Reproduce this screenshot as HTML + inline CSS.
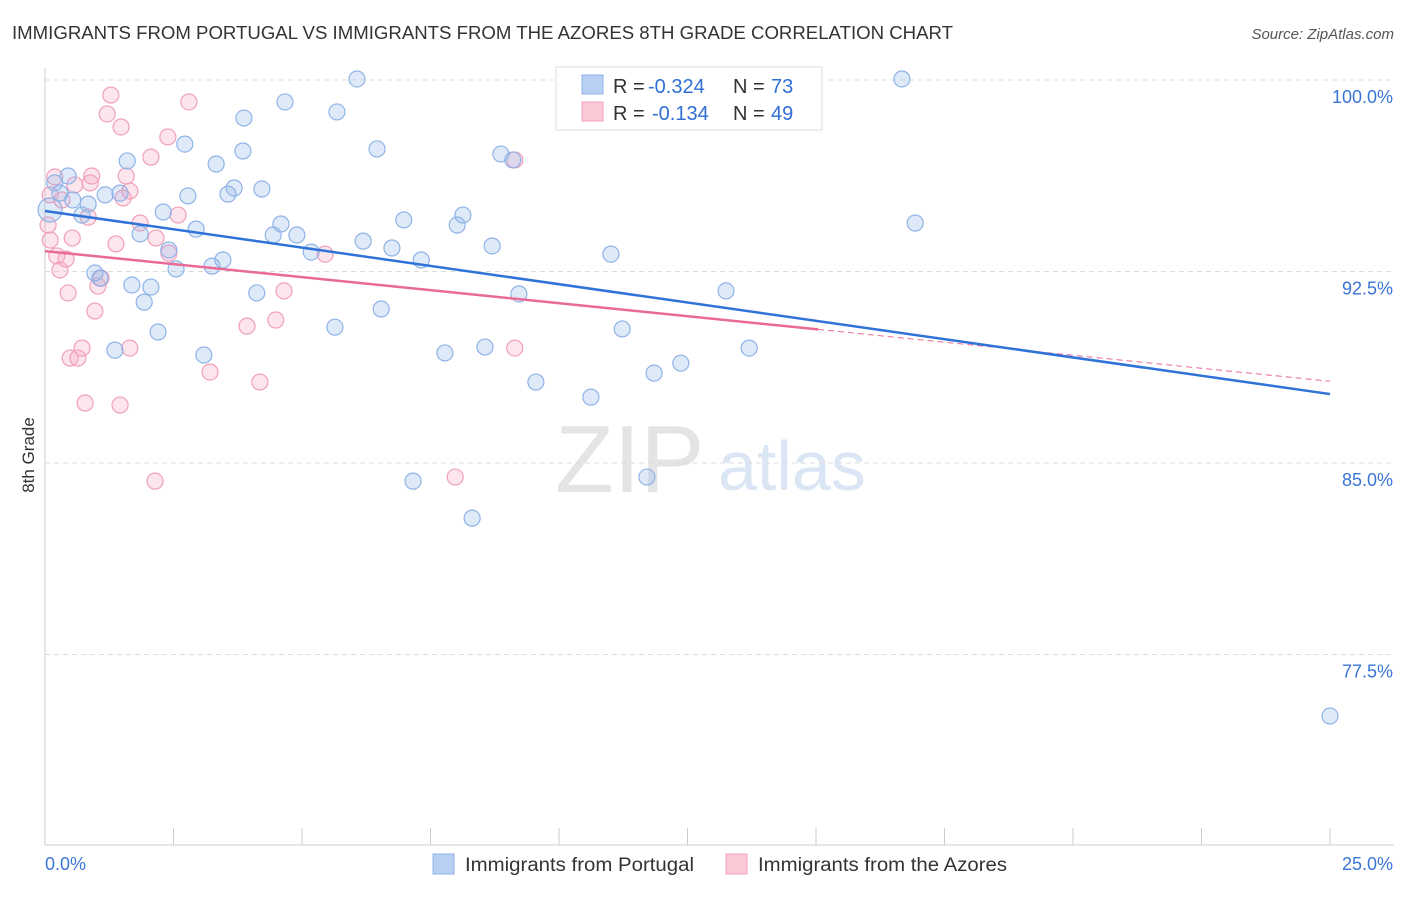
<!DOCTYPE html>
<html><head><meta charset="utf-8"><style>
body{margin:0;background:#fff;font-family:"Liberation Sans",sans-serif;}
svg text{font-family:"Liberation Sans",sans-serif;}
</style></head><body>
<svg id="chart" width="1406" height="892" viewBox="0 0 1406 892">
<text x="12" y="39" font-size="18" fill="#333" textLength="941" lengthAdjust="spacingAndGlyphs">IMMIGRANTS FROM PORTUGAL VS IMMIGRANTS FROM THE AZORES 8TH GRADE CORRELATION CHART</text>
<text x="1394" y="39" font-size="15" fill="#555" font-style="italic" text-anchor="end">Source: ZipAtlas.com</text>
<text x="555" y="492" font-size="96" fill="#e4e4e4" font-family="Liberation Serif">ZIP</text>
<text x="718" y="490" font-size="70" fill="#dbe6f5">atlas</text>
<text x="34" y="455" font-size="17" fill="#333" transform="rotate(-90 34 455)" text-anchor="middle">8th Grade</text>
<g id="grid"></g><g id="axes"></g><g id="marks"></g>
<g>
<rect x="556" y="67" width="266" height="63" fill="#fff" stroke="#ddd"/>
<rect x="582" y="75" width="21" height="19" fill="#b7d0f3" stroke="#8fb3e8"/>
<rect x="582" y="102" width="21" height="19" fill="#fbc8d6" stroke="#f0a0b8"/>
<text x="613" y="93" font-size="20" fill="#333">R =</text>
<text x="648" y="93" font-size="20" fill="#2f6fd6">-0.324</text>
<text x="733" y="93" font-size="20" fill="#333">N =</text>
<text x="771" y="93" font-size="20" fill="#2f6fd6">73</text>
<text x="613" y="120" font-size="20" fill="#333">R =</text>
<text x="652" y="120" font-size="20" fill="#2f6fd6">-0.134</text>
<text x="733" y="120" font-size="20" fill="#333">N =</text>
<text x="771" y="120" font-size="20" fill="#2f6fd6">49</text>
</g>
<g>
<rect x="433" y="854" width="21" height="20" fill="#b7d0f3" stroke="#8fb3e8"/>
<text x="465" y="871" font-size="19" fill="#333" textLength="229" lengthAdjust="spacingAndGlyphs">Immigrants from Portugal</text>
<rect x="726" y="854" width="21" height="20" fill="#fbc8d6" stroke="#f0a0b8"/>
<text x="758" y="871" font-size="19" fill="#333" textLength="249" lengthAdjust="spacingAndGlyphs">Immigrants from the Azores</text>
</g>
</svg>
<script>
const yTicks=[100,92.5,85,77.5];
const yTickLabels=["100.0%","92.5%","85.0%","77.5%"];
const xTicks=[0,2.5,5,7.5,10,12.5,15,17.5,20,22.5,25];
const blueX=[.19,.45,.29,.54,.84,.72,1.17,1.60,1.46,.97,1.07,1.69,1.93,2.06,2.30,2.41,2.55,2.20,1.36,1.85,2.72,2.78,2.94,3.33,3.56,3.68,3.87,3.85,4.22,3.25,3.46,3.09,4.12,4.67,4.59,4.44,4.90,5.18,5.68,6.07,6.46,6.19,6.75,6.98,7.32,5.64,6.54,7.78,8.02,8.13,8.56,8.70,8.87,9.10,9.22,9.55,10.62,11.01,11.23,11.85,12.37,11.71,8.31,7.16,13.25,13.70,13.85,16.67,16.93,25.0,.10,14.07];
const blueY=[95.97,96.24,95.57,95.30,95.14,94.71,95.50,96.83,95.57,92.44,92.24,91.97,91.30,91.89,94.83,93.34,92.60,90.13,89.42,93.97,97.49,95.46,94.16,96.71,95.53,95.77,98.51,97.22,95.73,92.71,92.95,89.23,91.66,99.14,94.36,93.93,93.93,93.26,98.75,100.04,97.30,93.69,93.42,94.52,92.95,90.32,91.03,89.31,94.32,94.71,89.54,93.50,97.10,96.87,91.62,88.17,87.58,93.18,90.25,88.52,88.91,84.45,82.84,84.29,91.74,89.50,100.04,100.04,94.40,75.09,94.91,100.04];
const pinkX=[.19,.06,.10,.23,.29,.45,.41,.53,.58,.49,.64,.72,.78,.84,.91,.88,.97,1.03,1.09,1.21,1.28,1.38,1.48,1.46,1.58,1.52,1.65,1.65,1.85,2.06,2.16,2.39,2.41,2.59,2.80,3.21,3.93,4.18,4.49,4.65,5.45,7.98,9.14,2.14,11.05,9.14,.10,.33];
const pinkY=[96.20,94.32,93.73,93.11,92.56,91.66,92.99,93.81,95.89,89.11,89.11,89.50,87.35,94.63,96.24,95.97,90.95,91.93,92.24,98.67,99.41,93.58,98.16,87.27,96.24,95.38,95.65,89.50,94.40,96.98,93.81,97.77,93.22,94.71,99.14,88.56,90.36,88.17,90.60,91.74,93.18,84.45,89.50,84.29,100.04,96.87,95.50,95.30];
const blueTrend=[94.87,87.70];
const pinkTrend=[93.30,88.2];
const pinkSolidEnd=15.04;
const X=v=>45+v/25*1285, Y=v=>80+(100-v)/7.5*191.5;
const NS="http://www.w3.org/2000/svg";
function mk(p,t,a){const e=document.createElementNS(NS,t);for(const k in a)e.setAttribute(k,a[k]);document.getElementById(p).appendChild(e);return e;}
yTicks.forEach((v,i)=>{
 const g=mk('grid','line',{x1:45,x2:1394,y1:Y(v),y2:Y(v),stroke:'#ddd','stroke-dasharray':'5,4'});
 
 
 const t=mk('axes','text',{x:1393,y:Y(v)+23,'font-size':18,fill:'#3a75d6','text-anchor':'end'});
 t.textContent=yTickLabels[i];
 
 
});
let a=mk('axes','line',{x1:45,x2:45,y1:68,y2:845,stroke:'#ccc'});


a=mk('axes','line',{x1:45,x2:1394,y1:845,y2:845,stroke:'#ccc'});


xTicks.forEach(v=>{const l=mk('axes','line',{x1:X(v),x2:X(v),y1:828,y2:845,stroke:'#ccc'});
 
 });
let t=mk('axes','text',{x:45,y:870,'font-size':18,fill:'#3a75d6'});t.textContent=xTicks[0].toFixed(1)+'%';


t=mk('axes','text',{x:1393,y:870,'font-size':18,fill:'#3a75d6','text-anchor':'end'});t.textContent=xTicks[xTicks.length-1].toFixed(1)+'%';


pinkX.forEach((x,i)=>{const c=mk('marks','circle',{cx:X(x),cy:Y(pinkY[i]),r:8,fill:'rgba(247,170,195,0.3)',stroke:'#f0a0b8','stroke-width':1.2});
 
 });
blueX.forEach((x,i)=>{const c=mk('marks','circle',{cx:X(x),cy:Y(blueY[i]),r:i==70?12:8,fill:'rgba(150,185,235,0.3)',stroke:'#8fb3e8','stroke-width':1.2});
 
 });
const pAt=x=>pinkTrend[0]+(pinkTrend[1]-pinkTrend[0])*x/25;
let l=mk('marks','line',{x1:X(pinkSolidEnd),y1:Y(pAt(pinkSolidEnd)),x2:X(25),y2:Y(pinkTrend[1]),stroke:'#e86a95','stroke-width':1,'stroke-dasharray':'6,4'});


l=mk('marks','line',{x1:X(0),y1:Y(pinkTrend[0]),x2:X(pinkSolidEnd),y2:Y(pAt(pinkSolidEnd)),stroke:'#e86a95','stroke-width':2.5});


l=mk('marks','line',{x1:X(0),y1:Y(blueTrend[0]),x2:X(25),y2:Y(blueTrend[1]),stroke:'#2f72d8','stroke-width':2.5});


</script>
</body></html>
